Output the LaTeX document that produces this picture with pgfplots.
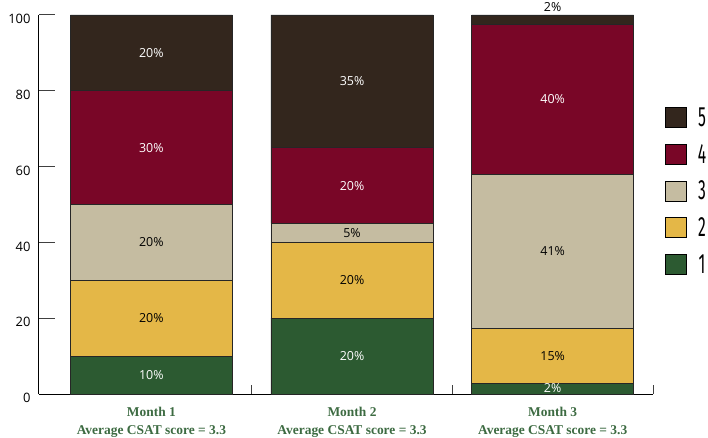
\documentclass[border=0pt]{standalone}
\usepackage{pgfplots}
\usepackage{pgfplotstable}
\pgfplotsset{compat=1.18}
\usepackage{fontspec}
\setmainfont{Open Sans}
\newfontfamily\labfont{Liberation Serif}
\newfontfamily\legfont[FakeStretch=0.56]{Fira Sans}
\definecolor{c5}{HTML}{33261D}
\definecolor{c4}{HTML}{790627}
\definecolor{c3}{HTML}{C5BCA1}
\definecolor{c2}{HTML}{E4B747}
\definecolor{c1}{HTML}{2C5A31}
\definecolor{xlab}{HTML}{3D6B42}

\pgfplotstableread{
x y lab
0 10 10\%
1 20 20\%
2 2.9 2\%
}\sone
\pgfplotstableread{
x y lab
0 20 20\%
1 20 20\%
2 14.3 15\%
}\stwo
\pgfplotstableread{
x y lab
0 20 20\%
1 5 5\%
2 40.8 41\%
}\sthree
\pgfplotstableread{
x y lab
0 30 30\%
1 20 20\%
2 39.6 40\%
}\sfour
\pgfplotstableread{
x y lab
0 20 20\%
1 35 35\%
2 2.4 {}
}\sfive

\begin{document}
\begin{tikzpicture}
\useasboundingbox (-39bp,-44bp) rectangle (669bp,394bp);
\begin{axis}[
  scale only axis, width=614bp, height=379bp,
  xmin=-0.56, xmax=2.5, ymin=0, ymax=100,
  ybar stacked, bar width=0.808,
  axis x line=bottom, axis y line=left,
  axis line style={-, line width=1bp, black},
  ytick={0,20,40,60,80,100},
  xtick={0.5,1.5,2.5}, xticklabels={},
  tick align=inside, major tick length=16bp,
  xtick style={/pgfplots/major tick length=9bp},
  tick style={black!75, line width=1bp},
  yticklabel style={font=\fontsize{13}{15}\selectfont, yshift=-4bp, xshift=-5bp},
  /pgf/number format/assume math mode=true,
  clip=false,
  point meta=explicit symbolic,
  nodes near coords,
  every node near coord/.append style={anchor=center,
     font=\fontsize{12.5}{15}\selectfont},
  legend image code/.code={\draw[#1, draw=black, line width=0.8bp] (0bp,-10bp) rectangle (21bp,10bp);},
  reverse legend,
  legend style={draw=none, fill=none, at={(axis description cs:1.0195,0.757)}, anchor=north west,
     inner sep=0pt, outer sep=0pt, row sep=16bp, column sep=11bp,
     font=\legfont\fontsize{28}{28}\selectfont,
     nodes={inner sep=0pt}},
]
\addplot[fill=c1, draw=black!85, line width=0.7bp, every node near coord/.append style={text=white}] table[x=x, y=y, meta=lab] {\sone};
\addlegendentry{1}
\addplot[fill=c2, draw=black!85, line width=0.7bp, every node near coord/.append style={text=black}] table[x=x, y=y, meta=lab] {\stwo};
\addlegendentry{2}
\addplot[fill=c3, draw=black!85, line width=0.7bp, every node near coord/.append style={text=black}] table[x=x, y=y, meta=lab] {\sthree};
\addlegendentry{3}
\addplot[fill=c4, draw=black!85, line width=0.7bp, every node near coord/.append style={text=white}] table[x=x, y=y, meta=lab] {\sfour};
\addlegendentry{4}
\addplot[fill=c5, draw=black!85, line width=0.7bp, every node near coord/.append style={text=white}] table[x=x, y=y, meta=lab] {\sfive};
\addlegendentry{5}
\node[anchor=south, inner sep=0pt, yshift=3bp, font=\fontsize{12.5}{15}\selectfont] at (axis cs:2,100) {2\%};
\node[anchor=north, align=center, inner sep=0pt, yshift=-13bp, text=xlab,
      font=\labfont\bfseries\fontsize{13.5}{18}\selectfont] at (axis cs:0,0) {Month 1\\Average CSAT score = 3.3};
\node[anchor=north, align=center, inner sep=0pt, yshift=-13bp, text=xlab,
      font=\labfont\bfseries\fontsize{13.5}{18}\selectfont] at (axis cs:1,0) {Month 2\\Average CSAT score = 3.3};
\node[anchor=north, align=center, inner sep=0pt, yshift=-13bp, text=xlab,
      font=\labfont\bfseries\fontsize{13.5}{18}\selectfont] at (axis cs:2,0) {Month 3\\Average CSAT score = 3.3};
\end{axis}
\end{tikzpicture}
\end{document}
